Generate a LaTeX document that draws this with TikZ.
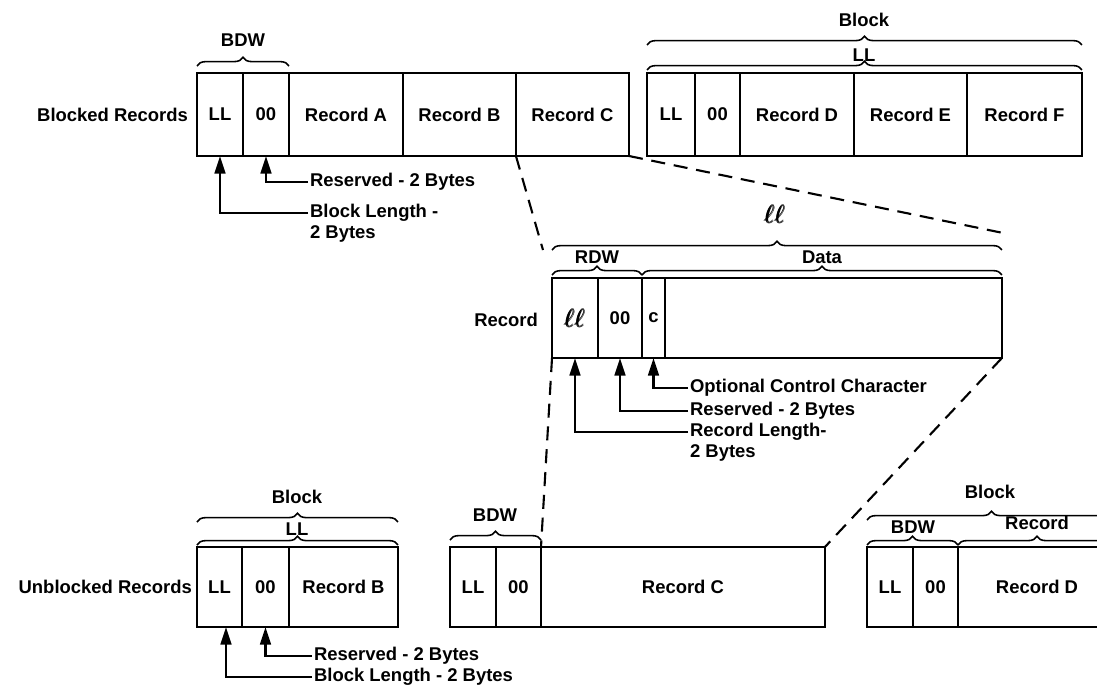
\documentclass[tikz,border=0pt]{standalone}
\usepackage{fontspec}
\setmainfont{Liberation Sans}
\usepackage{amsmath}
\usetikzlibrary{positioning, arrows.meta, decorations.pathreplacing}

\begin{document}
\begin{tikzpicture}[x=0.02cm, y=-0.02cm,
        cell/.style={draw, line width=1.2pt, outer sep=0pt, inner sep=0pt, minimum width=#1, minimum height=1.66cm, font=\bfseries\fontsize{10.5}{12}\selectfont},
        shortcell/.style={cell=#1, minimum height=1.6cm},
        txt/.style={font=\bfseries\fontsize{10.5}{12}\selectfont, inner sep=1pt},
        curly/.style={decorate, decoration={brace, amplitude=5pt}, line width=0.9pt},
        pointer/.style={line width=1.6pt, -{Triangle[length=10pt, width=6pt]}},
        zoomline/.style={line width=1.2pt, dash pattern=on 8pt off 5pt}
    ]
    \useasboundingbox (0,0) rectangle (1097,686);
    \clip (0,0) rectangle (1097,686);

    % Record bloccati
    \node[txt, anchor=east] (blk) at (190,114.5) {Blocked Records};
    \node[cell=0.92cm] (ll1) at (220,114.5) {LL};
    \node[cell=0.92cm, right=0pt of ll1] (oo1) {00};
    \node[cell=2.28cm, right=0pt of oo1] (recA) {Record A};
    \node[cell=2.26cm, right=0pt of recA] (recB) {Record B};
    \node[cell=2.26cm, right=0pt of recB] (recC) {Record C};

    \node[cell=0.96cm] (ll2) at (671,114.5) {LL};
    \node[cell=0.9cm, right=0pt of ll2] (oo2) {00};
    \node[cell=2.28cm, right=0pt of oo2] (recD) {Record D};
    \node[cell=2.26cm, right=0pt of recD] (recE) {Record E};
    \node[cell=2.3cm, right=0pt of recE] (recF) {Record F};

    % Graffe
    \draw[curly] ([yshift=0.14cm]ll1.north west) -- ([yshift=0.14cm]oo1.north east);
    \node[txt] (bdw1) at (243,40) {BDW};
    \draw[curly] ([yshift=0.56cm]ll2.north west) -- ([yshift=0.56cm]recF.north east);
    \node[txt] (block1) at (864,20) {Block};
    \draw[curly] ([yshift=0.06cm]ll2.north west) -- ([yshift=0.06cm]recF.north east);
    \node[txt] (lltop) at (864,55) {LL};

    % Frecce
    \node[txt, anchor=west] (rsv1) at (308,182) {Reserved - 2 Bytes};
    \node[txt, anchor=west, label={[txt, anchor=north west]south west:2 Bytes}] (blen1) at (308,213) {Block Length -};
    \draw[pointer] (rsv1.west) -| (oo1.south);
    \draw[pointer] (blen1.west) -| (ll1.south);

    % Linee tratteggiate
    \coordinate (z1) at (543,250);
    \coordinate (z2) at (1008,234);
    \draw[zoomline] (recB.south east) -- (z1);
    \draw[zoomline] (recC.south east) -- (z2);

    % Record
    \node[txt, anchor=east] (rec) at (540,320) {Record};
    \node[shortcell=0.92cm] (rl) at (575,318) {\Large$\pmb{\ell\ell}$};
    \node[shortcell=0.88cm, right=0pt of rl] (ro) {00};
    \node[shortcell=0.46cm, right=0pt of ro] (rc) {c};
    \node[shortcell=6.74cm, right=0pt of rc] (rd) {};

    \draw[curly] ([yshift=0.06cm]rl.north west) -- ([yshift=0.06cm]ro.north east);
    \node[txt] (rdw) at (597,257) {RDW};
    \draw[curly] ([yshift=0.06cm]rc.north west) -- ([yshift=0.06cm]rd.north east);
    \node[txt] (data) at (822,257) {Data};
    \draw[curly] ([yshift=0.56cm]rl.north west) -- ([yshift=0.56cm]rd.north east);
    \node[txt] (lltxt) at (775,214) {\Large$\pmb{\ell\ell}$};

    \node[txt, anchor=west] (occ) at (688,388) {Optional Control Character};
    \node[txt, anchor=west] (rsv2) at (688,411) {Reserved - 2 Bytes};
    \node[txt, anchor=west, label={[txt, anchor=north west]south west:2 Bytes}] (rlen) at (688,432) {Record Length-};
    \draw[pointer] (occ.west) -| (rc.south);
    \draw[pointer] (rsv2.west) -| (ro.south);
    \draw[pointer] (rlen.west) -| (rl.south);

    % Record non bloccati
    \node[txt, anchor=east] (unblk) at (194,587) {Unblocked Records};
    \node[shortcell=0.9cm] (ll3) at (219.5,587) {LL};
    \node[shortcell=0.94cm, right=0pt of ll3] (oo3) {00};
    \node[shortcell=2.18cm, right=0pt of oo3] (recB2) {Record B};

    \draw[curly] ([yshift=0.5cm]ll3.north west) -- ([yshift=0.5cm]recB2.north east);
    \node[txt] (block2) at (297,497) {Block};
    \draw[curly] ([yshift=0.04cm]ll3.north west) -- ([yshift=0.04cm]recB2.north east);
    \node[txt] (llbot) at (297,529) {LL};

    \node[txt, anchor=west] (rsv3) at (312,656) {Reserved - 2 Bytes};
    \node[txt, anchor=west] (blen3) at (312,677) {Block Length - 2 Bytes};
    \draw[pointer] (rsv3.west) -| (oo3.south);
    \draw[pointer] (blen3.west) -| ([xshift=0.13cm]ll3.south);

    \node[shortcell=0.92cm] (ll4) at (473,587) {LL};
    \node[shortcell=0.9cm, right=0pt of ll4] (oo4) {00};
    \node[shortcell=5.68cm, right=0pt of oo4] (recC2) {Record C};
    \draw[curly] ([yshift=0.14cm]ll4.north west) -- ([yshift=0.14cm]oo4.north east);
    \node[txt] (bdw4) at (495,515) {BDW};

    \node[shortcell=0.92cm] (ll5) at (890,587) {LL};
    \node[shortcell=0.9cm, right=0pt of ll5] (oo5) {00};
    \node[shortcell=3.16cm, right=0pt of oo5] (recD2) {Record D};
    \draw[curly] ([yshift=0.54cm]ll5.north west) -- ([yshift=0.54cm]recD2.north east);
    \node[txt] (block5) at (990,492) {Block};
    \draw[curly] ([yshift=0.04cm]ll5.north west) -- ([yshift=0.04cm]oo5.north east);
    \node[txt] (bdw5) at (913,527) {BDW};
    \draw[curly] ([yshift=0.04cm]recD2.north west) -- ([yshift=0.04cm]recD2.north east);
    \node[txt] (recbr) at (1037,523) {Record};

    % Zoom verso il basso
    \draw[zoomline] (rl.south west) -- (oo4.north east);
    \draw[zoomline] (rd.south east) -- (recC2.north east);
\end{tikzpicture}
\end{document}
